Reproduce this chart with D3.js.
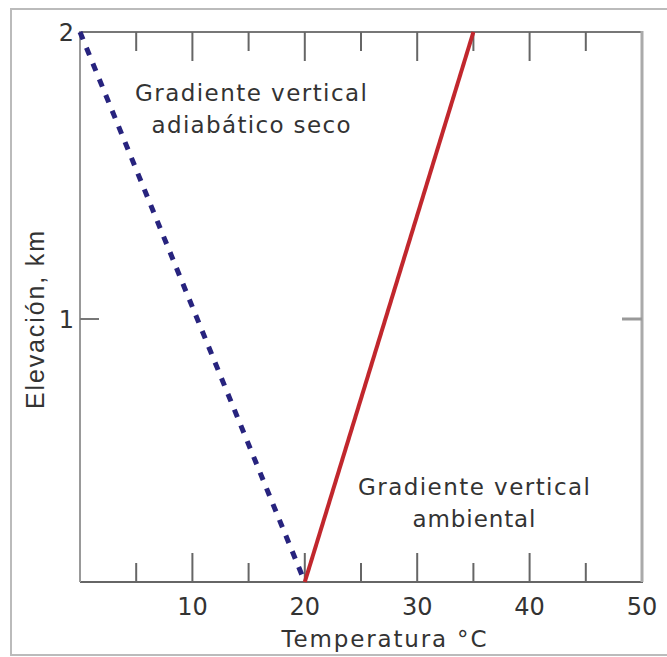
<!DOCTYPE html>
<html>
<head>
<meta charset="utf-8">
<script src="https://cdn.jsdelivr.net/npm/d3@7"></script>
<style>
  body { margin: 0; background: #fff; }
  text { fill: #333; }
</style>
</head>
<body>
<div id="chart"></div>
<script>
// data
var tempTicks = [5, 10, 15, 20, 25, 30, 35, 40, 45];
var tempLabels = [10, 20, 30, 40, 50];
var elevLabels = [1, 2];
var adiabatic = [{t: 0, z: 2}, {t: 20, z: 0}];
var ambient = [{t: 20, z: 0}, {t: 35, z: 2}];

var svgWidth = 667, svgHeight = 657;
var plotLeft = 80, plotRight = 642, plotTop = 32, plotBottom = 582;

var svg = d3.select("#chart").append("svg")
  .attr("width", svgWidth)
  .attr("height", svgHeight);

// outer frame
svg.append("path")
  .attr("d", `M${svgWidth + 5},9 H11 V655 H${svgWidth + 5}`)
  .attr("fill", "none")
  .attr("stroke", "#bbb")
  .attr("stroke-width", 2);

var x = d3.scaleLinear().domain([0, 50]).range([plotLeft, plotRight]);
// the original is not quite even in y, so piecewise
var y = d3.scaleLinear().domain([0, 1, 2]).range([plotBottom, 319, plotTop]);

// plot frame
svg.append("line").attr("x1", plotLeft).attr("x2", plotRight).attr("y1", plotTop).attr("y2", plotTop)
  .attr("stroke", "#777").attr("stroke-width", 2);
svg.append("line").attr("x1", plotLeft).attr("x2", plotRight + 1).attr("y1", plotBottom).attr("y2", plotBottom)
  .attr("stroke", "#666").attr("stroke-width", 2);
svg.append("line").attr("x1", plotLeft).attr("x2", plotLeft).attr("y1", plotTop - 1).attr("y2", plotBottom)
  .attr("stroke", "#999").attr("stroke-width", 2);
svg.append("line").attr("x1", plotRight).attr("x2", plotRight).attr("y1", plotTop - 1).attr("y2", plotBottom)
  .attr("stroke", "#aaa").attr("stroke-width", 3);

// ticks on bottom and top, pointing inward
var tickLen = d => d % 10 === 0 ? 29 : 19;
svg.selectAll(".xtick-b").data(tempTicks).enter().append("line")
  .attr("x1", d => x(d)).attr("x2", d => x(d))
  .attr("y1", plotBottom).attr("y2", d => plotBottom - tickLen(d))
  .attr("stroke", "#666").attr("stroke-width", 2);
svg.selectAll(".xtick-t").data(tempTicks).enter().append("line")
  .attr("x1", d => x(d)).attr("x2", d => x(d))
  .attr("y1", plotTop).attr("y2", d => plotTop + tickLen(d))
  .attr("stroke", "#666").attr("stroke-width", 2);

// tick at 1 km on both sides
svg.append("line").attr("x1", plotLeft).attr("x2", plotLeft + 19).attr("y1", y(1)).attr("y2", y(1))
  .attr("stroke", "#777").attr("stroke-width", 2);
svg.append("line").attr("x1", plotRight).attr("x2", plotRight - 20).attr("y1", y(1)).attr("y2", y(1))
  .attr("stroke", "#999").attr("stroke-width", 3);

// tick labels
svg.selectAll(".xlab").data(tempLabels).enter().append("text")
  .attr("x", d => x(d)).attr("y", 615)
  .attr("text-anchor", "middle")
  .style("font-family", "DejaVu Sans")
  .style("font-size", "24px")
  .text(d => d);
svg.selectAll(".ylab").data(elevLabels).enter().append("text")
  .attr("x", 74).attr("y", d => y(d) + 9)
  .attr("text-anchor", "end")
  .style("font-family", "DejaVu Sans")
  .style("font-size", "24px")
  .text(d => d);

// axis titles
svg.append("text")
  .attr("x", 384).attr("y", 647)
  .attr("text-anchor", "middle")
  .attr("textLength", 205)
  .style("font-family", "DejaVu Sans")
  .style("font-size", "23px")
  .text("Temperatura °C");
svg.append("text")
  .attr("transform", "translate(44, 320) rotate(-90)")
  .attr("text-anchor", "middle")
  .attr("textLength", 178)
  .style("font-family", "Liberation Sans")
  .style("font-size", "25px")
  .text("Elevación, km");

// lines
var line = d3.line().x(d => x(d.t)).y(d => y(d.z));
svg.append("path").datum(adiabatic)
  .attr("d", line)
  .attr("fill", "none")
  .attr("stroke", "#27237e")
  .attr("stroke-width", 5)
  .attr("stroke-dasharray", "8,9");
svg.append("path").datum(ambient)
  .attr("d", line)
  .attr("fill", "none")
  .attr("stroke", "#c1272d")
  .attr("stroke-width", 4);

// annotations
function note(cx, ys, lines, widths) {
  lines.forEach((s, i) => {
    svg.append("text")
      .attr("x", cx).attr("y", ys[i])
      .attr("text-anchor", "middle")
      .attr("textLength", widths[i])
      .style("font-family", "DejaVu Sans")
      .style("font-size", "23px")
      .text(s);
  });
}
note(251, [101, 133], ["Gradiente vertical", "adiabático seco"], [232, 199]);
note(474, [495, 527], ["Gradiente vertical", "ambiental"], [232, 123]);
</script>
</body>
</html>
